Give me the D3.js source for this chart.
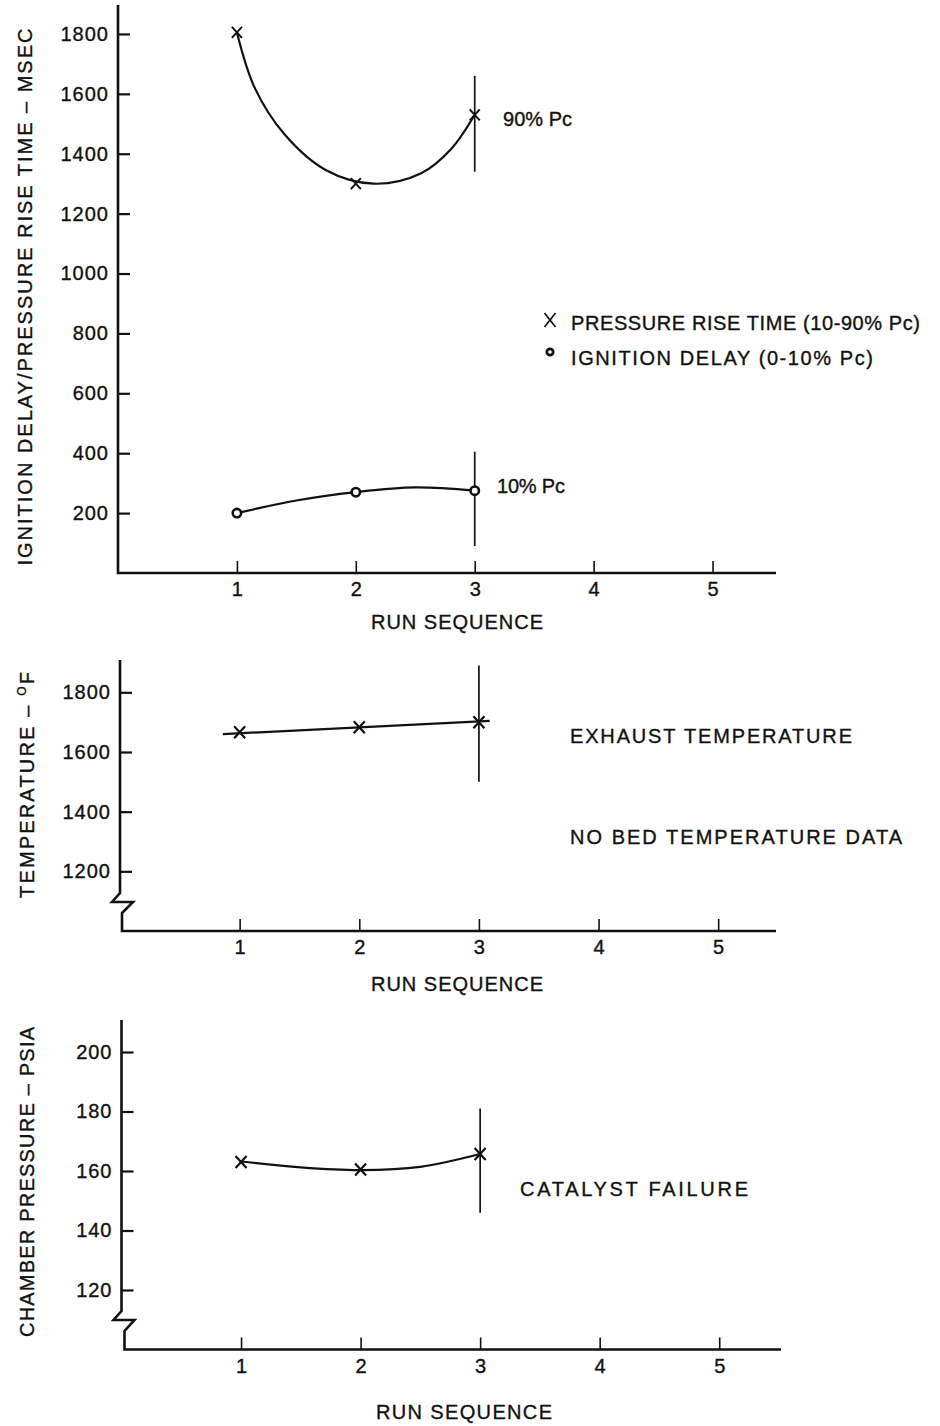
<!DOCTYPE html>
<html><head><meta charset="utf-8">
<script src="https://cdn.jsdelivr.net/npm/d3@7"></script>
<style>
html,body{margin:0;padding:0;background:#fff;}
svg{display:block;}
text{font-family:"Liberation Sans",Arial,sans-serif;fill:#111;stroke:#111;stroke-width:0.35px;}
</style></head><body>
<svg id="chart" width="940" height="1426"></svg>
<script>
// ---------------- DATA ----------------
const runTicks = [1, 2, 3, 4, 5];
const runs = [1, 2, 3];

// Panel 1: ignition delay / pressure rise time (msec)
const riseTime = [1805, 1300, 1530];
const ignitionDelay = [200, 270, 275];
const riseFitRun = [1, 1.15, 1.4, 1.75, 2.15, 2.55, 2.8, 3.0];
const riseFitVal = [1805, 1620, 1465, 1345, 1300, 1335, 1415, 1530];
const ignFitRun = [1, 1.5, 2, 2.5, 3];
const ignFitVal = [200, 242, 270, 286, 275];
const riseErr = [1340, 1660];      // at run 3
const ignErr = [90, 405];          // at run 3
const panel1Ticks = [200, 400, 600, 800, 1000, 1200, 1400, 1600, 1800];

// Panel 2: exhaust temperature (F)
const exhaustTemp = [1666, 1683, 1700];
const tempFitRun = [0.86, 3.09];
const tempFitVal = [1660, 1704];
const tempErr = [1500, 1890];      // at run 3
const panel2Ticks = [1200, 1400, 1600, 1800];

// Panel 3: chamber pressure (psia)
const chamberPressure = [163, 160.5, 165.7];
const chamFitRun = [1, 1.5, 2, 2.5, 3];
const chamFitVal = [163.2, 161.2, 160.3, 161.4, 165.7];
const chamErr = [146, 181];        // at run 3
const panel3Ticks = [120, 140, 160, 180, 200];

// ---------------- DRAW ----------------
const svg = d3.select("#chart");
const INK = "#111";
const FS = 20;

function xMark(g, cx, cy, h, w, sw) {
  g.append("path")
    .attr("d", `M${cx - w},${cy - h}L${cx + w},${cy + h}M${cx + w},${cy - h}L${cx - w},${cy + h}`)
    .attr("stroke", INK).attr("stroke-width", sw).attr("fill", "none");
}
function oMark(g, cx, cy, r, sw) {
  g.append("circle").attr("cx", cx).attr("cy", cy).attr("r", r)
    .attr("fill", "#fff").attr("stroke", INK).attr("stroke-width", sw);
}
function label(g, x, y, len, txt, anchor) {
  return g.append("text").attr("x", x).attr("y", y).attr("font-size", FS)
    .attr("text-anchor", anchor || "start")
    .attr("textLength", len).attr("lengthAdjust", "spacing").text(txt);
}

function panel(opt) {
  const g = svg.append("g");
  const x = d3.scaleLinear().domain([0, 5.5]).range(opt.xr);
  const y = d3.scaleLinear().domain(opt.yd).range(opt.yr);
  const x0 = opt.xr[0], yb = opt.yr[0];

  const ya = g.append("g").attr("transform", `translate(${x0},0)`)
    .call(d3.axisLeft(y).tickValues(opt.yTicks).tickSize(-12).tickPadding(9).tickSizeOuter(0).tickFormat(d3.format("d")));
  ya.select(".domain").remove();
  ya.selectAll(".tick line").attr("stroke", INK).attr("stroke-width", 2.2);
  ya.selectAll(".tick text").attr("font-size", FS).attr("letter-spacing", "1px")
    .style("font-family", '"Liberation Sans",Arial,sans-serif').attr("fill", INK);

  const xa = g.append("g").attr("transform", `translate(0,${yb})`)
    .call(d3.axisBottom(x).tickValues(runTicks).tickSize(-12).tickPadding(9).tickSizeOuter(0).tickFormat(d3.format("d")));
  xa.select(".domain").remove();
  xa.selectAll(".tick line").attr("stroke", INK).attr("stroke-width", 1.6);
  xa.selectAll(".tick text").attr("font-size", FS)
    .style("font-family", '"Liberation Sans",Arial,sans-serif').attr("fill", INK);

  let d;
  if (opt.brk) {
    const b = opt.brk;
    const xs = opt.brkShift;
    d = `M${x0},${opt.yTop}L${x0},${b}L${x0 - 8},${b + 9}L${x0 + 13},${b + 9}L${x0 + xs},${b + 20}L${x0 + xs},${yb}L${opt.xEnd},${yb}`;
  } else {
    d = `M${x0},${opt.yTop}L${x0},${yb}L${opt.xEnd},${yb}`;
  }
  g.append("path").attr("d", d).attr("fill", "none").attr("stroke", INK)
    .attr("stroke-width", 2.6).attr("stroke-linejoin", "miter");

  label(g, opt.xlab[0], opt.xlab[1], opt.xlab[2], "RUN SEQUENCE", "middle");
  return { g, x, y };
}

const curve = (x, y) => d3.line().x(d => x(d[0])).y(d => y(d[1])).curve(d3.curveCatmullRom.alpha(0.5));
function stroke(p) { return p.attr("fill", "none").attr("stroke", INK).attr("stroke-width", 2.2); }
function errBar(g, x, y, run, e) {
  g.append("line").attr("x1", x(run)).attr("x2", x(run)).attr("y1", y(e[0])).attr("y2", y(e[1]))
    .attr("stroke", INK).attr("stroke-width", 1.7);
}

// ---- Panel 1 ----
{
  const { g, x, y } = panel({
    xr: [118, 772], yd: [0, 1900], yr: [573, 4], yTicks: panel1Ticks,
    yTop: 5, xEnd: 776, xlab: [457, 629, 172]
  });
  stroke(g.append("path").attr("d", curve(x, y)(riseFitRun.map((r, i) => [r, riseFitVal[i]]))));
  stroke(g.append("path").attr("d", curve(x, y)(ignFitRun.map((r, i) => [r, ignFitVal[i]]))));
  errBar(g, x, y, 3, riseErr);
  errBar(g, x, y, 3, ignErr);
  runs.forEach((r, i) => xMark(g, x(r), y(riseTime[i]), 5.5, 5, 2));
  runs.forEach((r, i) => oMark(g, x(r), y(ignitionDelay[i]), 4.2, 2.6));

  label(g, 503, 126, 69, "90% Pc");
  label(g, 497, 493, 68, "10% Pc");

  // legend
  xMark(g, 550, 320, 7, 5.5, 1.7);
  label(g, 571, 330, 349, "PRESSURE RISE TIME (10-90% Pc)");
  oMark(g, 550, 352, 3.2, 2.8);
  label(g, 571, 365, 302, "IGNITION DELAY (0-10% Pc)");

  label(g, 0, 0, 537, "IGNITION DELAY/PRESSURE RISE TIME – MSEC", "middle")
    .attr("transform", "translate(32,297) rotate(-90)");
}

// ---- Panel 2 ----
{
  const { g, x, y } = panel({
    xr: [120, 778], yd: [1000, 1900], yr: [931, 662.5], yTicks: panel2Ticks,
    yTop: 660, xEnd: 776, xlab: [457, 991, 172], brk: 893, brkShift: 2
  });
  stroke(g.append("path").attr("d", d3.line().x(d => x(d[0])).y(d => y(d[1]))(tempFitRun.map((r, i) => [r, tempFitVal[i]]))));
  errBar(g, x, y, 3, tempErr);
  runs.forEach((r, i) => xMark(g, x(r), y(exhaustTemp[i]), 6, 5.5, 2.2));

  label(g, 570, 743, 282, "EXHAUST TEMPERATURE");
  label(g, 570, 844, 332, "NO BED TEMPERATURE DATA");

  const t = g.append("text").attr("transform", "translate(34,785) rotate(-90)").attr("text-anchor", "middle")
    .attr("font-size", FS).attr("textLength", 226).attr("lengthAdjust", "spacing");
  t.append("tspan").text("TEMPERATURE – ");
  t.append("tspan").attr("font-size", 12).attr("dy", -8).text("O");
  t.append("tspan").attr("dy", 8).text("F");
}

// ---- Panel 3 ----
{
  const { g, x, y } = panel({
    xr: [121.5, 779], yd: [100, 210], yr: [1349.5, 1022.25], yTicks: panel3Ticks,
    yTop: 1020, xEnd: 781, xlab: [464, 1419, 176], brk: 1311, brkShift: 3
  });
  stroke(g.append("path").attr("d", curve(x, y)(chamFitRun.map((r, i) => [r, chamFitVal[i]]))));
  errBar(g, x, y, 3, chamErr);
  runs.forEach((r, i) => xMark(g, x(r), y(chamberPressure[i]), 6, 5.5, 2.2));

  label(g, 520, 1196, 228, "CATALYST FAILURE");

  label(g, 0, 0, 310, "CHAMBER PRESSURE – PSIA", "middle")
    .attr("transform", "translate(34,1182) rotate(-90)");
}
</script>
</body></html>
